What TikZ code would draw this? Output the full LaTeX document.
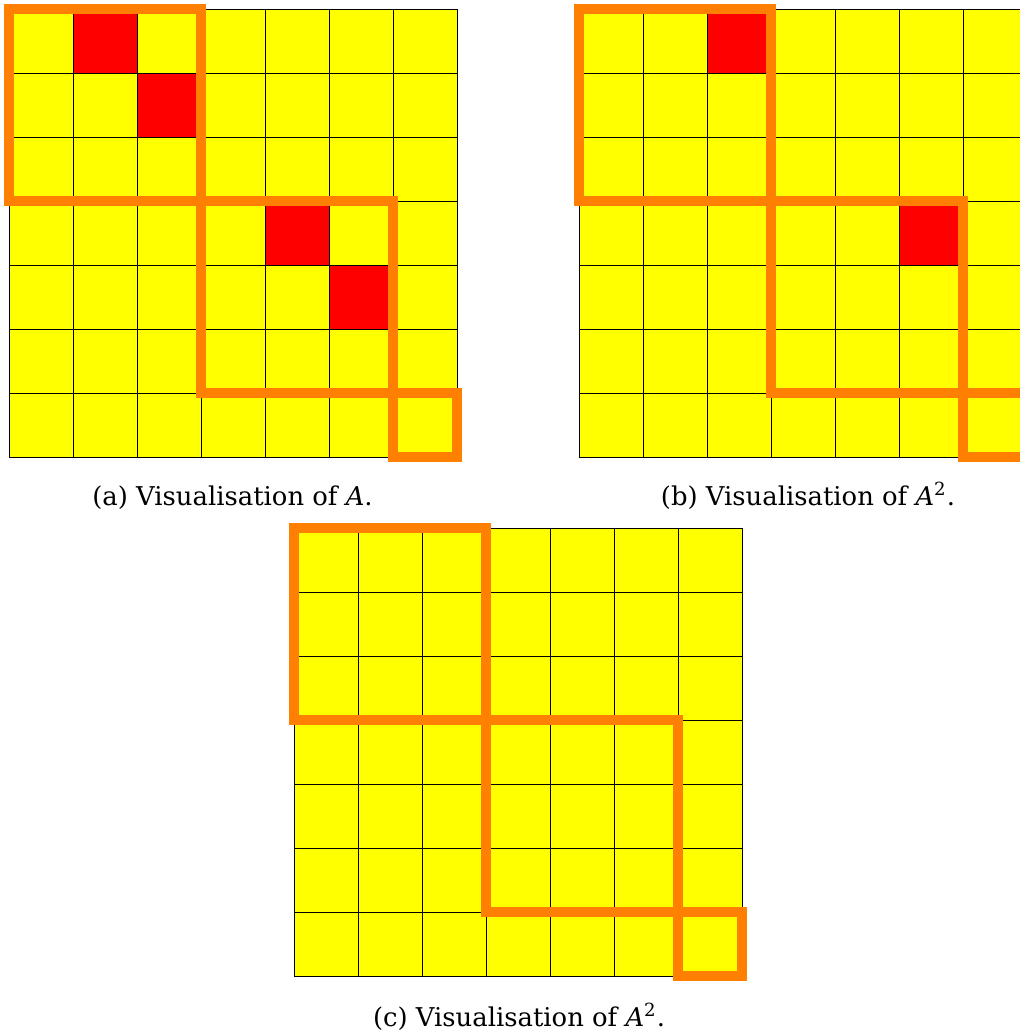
\documentclass[tikz,border=0pt]{standalone}
\usepackage{fontspec}
\setmainfont{DejaVu Serif}
\usepackage{tikz}
\usetikzlibrary{positioning}
\definecolor{blockorange}{RGB}{255,128,0}
\definecolor{cellyellow}{RGB}{255,255,0}
\definecolor{hotred}{RGB}{255,0,0}
\tikzset{
  cell/.style={draw=black, fill=cellyellow, line width=0.4pt},
  hotcell/.style={draw=black, fill=hotred, line width=0.4pt},
  block/.style={draw=blockorange, line width=4.4pt},
  subcap/.style={anchor=base, inner sep=0pt, font=\fontsize{11.5}{14}\selectfont}
}

\begin{document}
\begin{tikzpicture}[x=1cm, y=-1cm]
\useasboundingbox (0,0) rectangle (15.9375,16.1406);
% (a) matrix A
\begin{scope}[shift={(0.1406,0.1406)}]
  \foreach \r in {0,...,6}
    \foreach \c in {0,...,6}
      \draw[cell] (\c,\r) rectangle ++(1,1);
  \foreach \c/\r in {1/0,2/1,4/3,5/4}
    \draw[hotcell] (\c,\r) rectangle ++(1,1);
  \draw[block] (0,0) rectangle (3,3);
  \draw[block] (3,3) rectangle (6,6);
  \draw[block] (6,6) rectangle (7,7);
\end{scope}
% (b) matrix A^2
\begin{scope}[shift={(9.047,0.1406)}]
  \foreach \r in {0,...,6}
    \foreach \c in {0,...,6}
      \draw[cell] (\c,\r) rectangle ++(1,1);
  \foreach \c/\r in {2/0,5/3}
    \draw[hotcell] (\c,\r) rectangle ++(1,1);
  \draw[block] (0,0) rectangle (3,3);
  \draw[block] (3,3) rectangle (6,6);
  \draw[block] (6,6) rectangle (7,7);
\end{scope}
% (c) matrix A^2, blocks only
\begin{scope}[shift={(4.594,8.25)}]
  \foreach \r in {0,...,6}
    \foreach \c in {0,...,6}
      \draw[cell] (\c,\r) rectangle ++(1,1);
  \draw[block] (0,0) rectangle (3,3);
  \draw[block] (3,3) rectangle (6,6);
  \draw[block] (6,6) rectangle (7,7);
\end{scope}
% captions
\node[subcap] (capa) at (3.633,7.9) {(a) Visualisation of \textit{A}.};
\node[subcap] (capb) at (12.625,7.9) {(b) Visualisation of \textit{A}\textsuperscript{2}.};
\node[subcap] (capc) at (8.11,16.04) {(c) Visualisation of \textit{A}\textsuperscript{2}.};
\end{tikzpicture}
\end{document}
